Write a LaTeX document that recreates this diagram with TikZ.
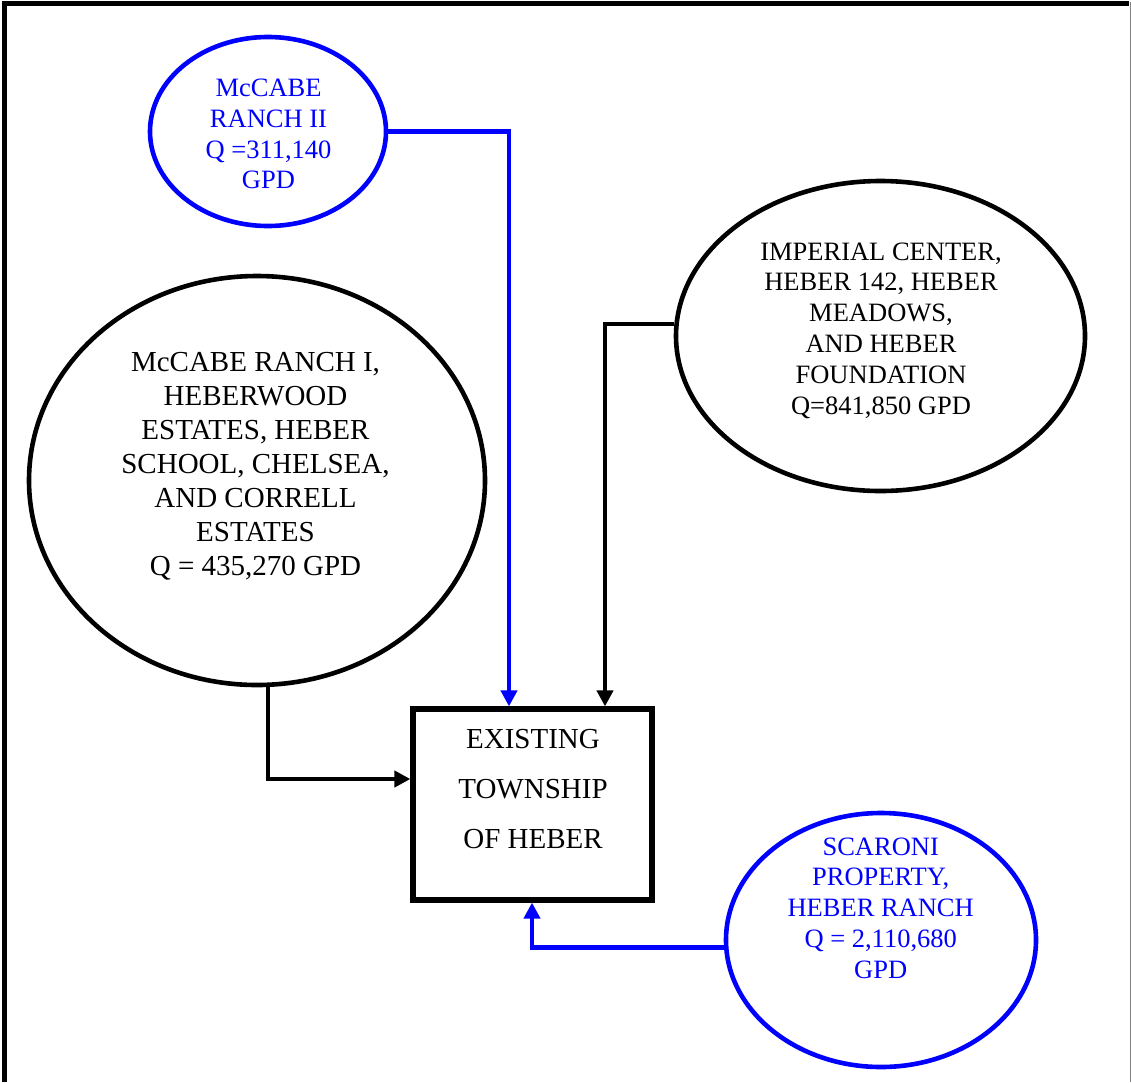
\documentclass[tikz,border=0pt]{standalone}
\usepackage{fontspec}
\setmainfont{Liberation Serif}
\usetikzlibrary{shapes.geometric,arrows.meta}

\definecolor{flowblue}{RGB}{0,0,255}

\tikzset{
  blob/.style={draw, ellipse, line width=4.6pt, inner sep=0pt},
  blueblob/.style={blob, draw=flowblue},
  blackblob/.style={blob, draw=black},
  townbox/.style={draw, rectangle, line width=5.2pt, inner sep=0pt},
  caption/.style={align=center, inner sep=0pt},
  smalltext/.style={caption, font=\fontsize{26.5}{30.8}\selectfont},
  bigtext/.style={caption, font=\fontsize{29}{34}\selectfont},
  flow/.style={line width=4.6pt, -{Triangle[length=16pt,width=16pt]}},
  blueflow/.style={flow, draw=flowblue, color=flowblue},
  blackflow/.style={flow, draw=black}
}

\begin{document}
\begin{tikzpicture}[x=1pt, y=-1pt]
  \useasboundingbox (0,0) rectangle (1131,1082);

  % outer frame (open at the bottom)
  \draw[line width=4.5pt] (4.3,1082) -- (4.3,3.7) -- (1129,3.7);
  \draw[line width=1.2pt, gray] (1130.3,1.7) -- (1130.3,1082);

  % sources
  \node[blueblob, minimum width=236pt, minimum height=189pt] (mc2) at (268,131.5) {};
  \node[blackblob, minimum width=456pt, minimum height=409pt] (mc1) at (257,480.5) {};
  \node[blackblob, minimum width=409pt, minimum height=310pt] (imp) at (880.5,336) {};
  \node[blueblob, minimum width=310pt, minimum height=254pt] (sca) at (881,940) {};

  % receiving township
  \node[townbox, minimum width=239pt, minimum height=191pt] (town) at (532.5,804.5) {};

  % texts
  \node[smalltext, text=flowblue] (mc2t) at (268.5,134) {McCABE\\RANCH II\\Q =311,140\\GPD};
  \node[bigtext] (mc1t) at (255.5,466) {McCABE RANCH I,\\HEBERWOOD\\ESTATES, HEBER\\SCHOOL, CHELSEA,\\AND CORRELL\\ESTATES\\Q = 435,270 GPD};
  \node[smalltext] (impt) at (881,330.5) {IMPERIAL CENTER,\\HEBER 142, HEBER\\MEADOWS,\\AND HEBER\\FOUNDATION\\Q=841,850 GPD};
  \node[smalltext, text=flowblue] (scat) at (880.7,908) {SCARONI\\PROPERTY,\\HEBER RANCH\\Q = 2,110,680\\GPD};
  \node[caption, font=\fontsize{29}{50}\selectfont] (townt) at (533,789) {EXISTING\\TOWNSHIP\\OF HEBER};

  % routing helpers
  \coordinate (xa) at (509,0);
  \coordinate (xb) at (605,0);
  \coordinate (xc) at (268,0);
  \coordinate (xd) at (532,0);
  \coordinate (yb) at (0,324);
  \coordinate (yc) at (0,779);
  \coordinate (yd) at (0,947.7);

  % flows into the township
  \draw[blueflow] (mc2.east) -| (town.north -| xa);
  \draw[blackflow] (imp.west |- yb) -| (town.north -| xb);
  \draw[blackflow] (mc1.south -| xc) |- (town.west |- yc);
  \draw[blueflow] (sca.west |- yd) -| (town.south -| xd);
\end{tikzpicture}
\end{document}
